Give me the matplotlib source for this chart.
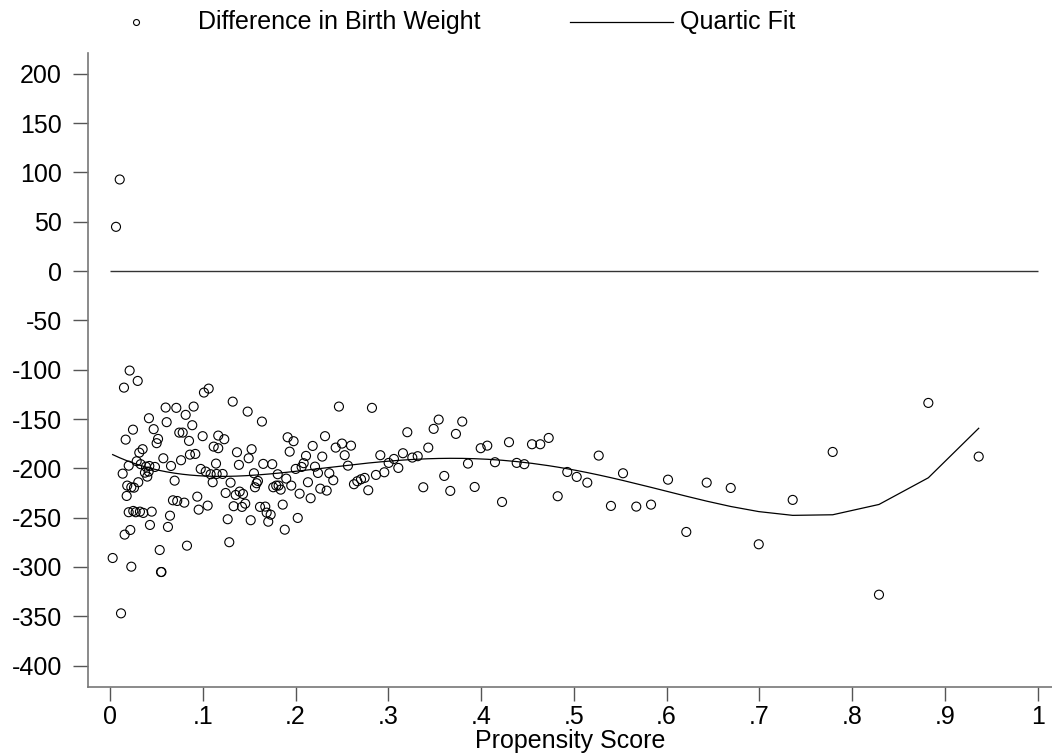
import matplotlib
matplotlib.use("Agg")
import matplotlib.pyplot as plt
from matplotlib.lines import Line2D
import numpy as np

plt.rcParams['font.family'] = ['Liberation Sans', 'DejaVu Sans']
plt.rcParams['axes.unicode_minus'] = False

# propensity score (x) and difference in birth weight (y)
pscore = np.array([
    .0105, .0065, .0212, .0299, .0151, .1013, .1064, .0600, .0715, .0902,
    .0420, .0816, .0611, .0887, .0248, .0471, .0747, .0784, .0999, .1167,
    .0169, .0518, .0503, .0852, .1118, .1167, .0352, .0316, .0862, .0920,
    .0575, .0766, .0288, .0202, .0331, .0658, .1143, .0388, .0424, .0485,
    .0978, .1032, .1085, .1150, .0377, .0402, .0417, .0137, .1107, .0697,
    .0305, .0186, .0230, .0259, .0180, .0941, .0679, .0725, .0801, .1053,
    .0956, .0202, .0251, .0277, .0323, .0359, .0450, .0647, .0431, .0625,
    .0219, .0158, .0536, .0830, .0029, .0230, .0550, .0555, .0119,
    .1323, .1484, .1638, .1232, .1527, .1369, .1495, .1915, .1979, .2318,
    .2185, .1937, .2288, .2113, .1390, .1652, .1749, .2088, .1214, .1300,
    .1552, .1808, .1900, .2002, .2066, .2210, .2242, .2364, .1595, .1581,
    .1563, .1760, .1792, .1818, .1840, .1954, .2134, .2267, .2336, .2163,
    .2044, .1247, .1355, .1398, .1434, .1333, .1423, .1458, .1617, .1674,
    .1689, .1732, .1706, .1862, .2024, .1884, .1517, .1269, .1286,
    .2468, .2824, .2433, .2501, .2598, .2530, .2565, .2407, .2630, .2666,
    .2706, .2745, .2784, .2867, .2957, .2914, .3004, .3061, .3108, .3158,
    .3205, .3259, .3317, .3377, .3431, .3489, .3543, .3603, .3668, .3729,
    .3797, .3859, .3931, .3996, .4067, .4150, .4226, .4301, .4384,
    .4466, .4549, .4638, .4729, .5268, .4929, .5031, .5145, .4826, .5400,
    .5530, .5673, .5832, .6015, .6212, .6432, .6691, .6993, .7359,
    .7790, .8821, .9364, .8289,
])
bw_diff = np.array([
    92.8, 44.8, -100.9, -111.4, -118.2, -123.2, -119.2, -138.4, -138.7, -137.4,
    -149.2, -145.8, -153.2, -156.3, -160.8, -160.3, -163.8, -163.8, -167.4, -166.8,
    -170.9, -170.2, -174.5, -172.2, -178.0, -179.6, -180.6, -184.1, -186.1, -185.4,
    -189.8, -191.8, -192.8, -197.3, -195.8, -197.6, -195.2, -198.3, -197.6, -198.6,
    -200.6, -203.3, -206.0, -205.7, -204.4, -208.4, -203.3, -205.4, -214.1, -212.5,
    -214.1, -217.5, -219.2, -219.6, -228.0, -228.7, -232.4, -233.1, -234.8, -237.8,
    -241.9, -244.5, -243.2, -244.5, -243.9, -245.2, -243.9, -248.0, -257.4, -259.4,
    -262.5, -267.2, -282.8, -278.4, -290.9, -299.7, -305.1, -305.1, -347.0,
    -132.4, -142.5, -152.6, -170.5, -180.6, -183.7, -189.8, -168.5, -172.5, -167.4,
    -177.3, -183.1, -188.1, -187.4, -196.5, -195.5, -195.8, -194.8, -205.7, -214.5,
    -205.0, -206.0, -210.4, -200.6, -198.6, -198.3, -204.7, -205.0, -212.8, -215.1,
    -219.2, -219.2, -217.5, -217.5, -221.6, -217.5, -214.1, -220.6, -222.6, -230.3,
    -225.7, -225.0, -227.0, -223.6, -226.0, -238.4, -239.1, -235.8, -239.1, -238.8,
    -244.9, -247.0, -254.1, -236.8, -250.3, -262.2, -252.6, -251.6, -274.9,
    -137.4, -138.7, -179.0, -174.9, -177.0, -186.7, -197.3, -212.1, -216.1, -213.1,
    -211.1, -209.7, -222.2, -206.7, -204.0, -186.7, -194.5, -190.5, -199.6, -184.7,
    -163.4, -189.1, -187.7, -219.2, -179.0, -160.0, -150.6, -207.7, -222.9, -165.1,
    -152.6, -195.2, -218.9, -179.6, -177.0, -193.8, -234.1, -173.5, -194.5,
    -195.8, -175.6, -175.6, -169.2, -187.1, -203.7, -208.7, -214.5, -228.3, -238.1,
    -205.0, -238.8, -236.8, -211.5, -264.5, -214.5, -219.9, -277.0, -232.0,
    -183.4, -133.7, -188.1, -328.1,
])

y_ticks = [200, 150, 100, 50, 0, -50, -100, -150, -200, -250, -300, -350, -400]
x_ticks = [0, .1, .2, .3, .4, .5, .6, .7, .8, .9, 1]
x_labels = ['0', '.1', '.2', '.3', '.4', '.5', '.6', '.7', '.8', '.9', '1']

# quartic fit, evaluated at the sorted scores
order = np.argsort(pscore)
coef = np.polyfit(pscore, bw_diff, 4)
fit = np.polyval(coef, pscore[order])

fig = plt.figure(figsize=(10.52, 7.53), dpi=100)
ax = fig.add_axes([0.0839, 0.088, 0.9161, 0.8416])

ax.hlines(0, 0, 1, color='#333333', lw=1.0)
ax.scatter(pscore, bw_diff, s=42, facecolors='none', edgecolors='black', linewidths=0.8)
ax.plot(pscore[order], fit, color='black', lw=0.9)

ax.set_xlim(-0.0234, 1.0154)
ax.set_ylim(-421.4, 221)
ax.set_xticks(x_ticks)
ax.set_xticklabels(x_labels)
ax.set_yticks(y_ticks)
ax.tick_params(axis='y', length=11, width=1, color='#555555', pad=8, labelsize=18)
ax.tick_params(axis='x', length=10, width=1, color='#555555', pad=3, labelsize=18)
for s in ['top', 'right']:
    ax.spines[s].set_visible(False)
for s in ['left', 'bottom']:
    ax.spines[s].set_color('#777777')
    ax.spines[s].set_linewidth(1.2)
ax.set_xlabel('Propensity Score', fontsize=18, labelpad=0)

# legend along the top, Stata style
ly = 1 - 22 / 753
fig.add_artist(Line2D([136 / 1052], [ly], marker='o', markersize=4.3,
                      markerfacecolor='none', markeredgecolor='black', markeredgewidth=0.8))
fig.text(198 / 1052, ly, 'Difference in Birth Weight', fontsize=18, va='center')
fig.add_artist(Line2D([570 / 1052, 673 / 1052], [ly, ly], color='black', lw=0.9))
fig.text(680 / 1052, ly, 'Quartic Fit', fontsize=18, va='center')

fig.savefig('out.png', dpi=100)
